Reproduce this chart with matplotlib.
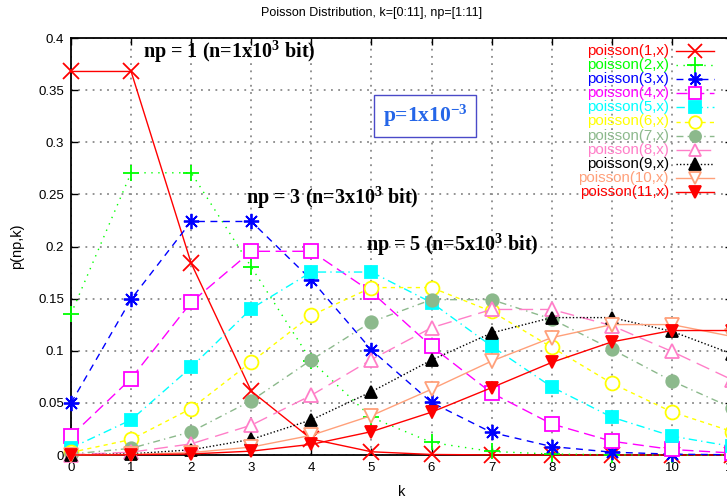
import matplotlib
matplotlib.use("Agg")
import matplotlib.pyplot as plt
from matplotlib.lines import Line2D

plt.rcParams['font.family'] = ['Liberation Sans', 'DejaVu Sans']
plt.rcParams['mathtext.fontset'] = 'custom'
plt.rcParams['mathtext.rm'] = 'Liberation Serif:bold'
plt.rcParams['mathtext.it'] = 'Liberation Serif:bold'

k = [0, 1, 2, 3, 4, 5, 6, 7, 8, 9, 10, 11]

pois_1 = [0.3679, 0.3679, 0.1839, 0.0613, 0.0153, 0.0031, 0.0005, 0.0001, 0.0, 0.0, 0.0, 0.0]
pois_2 = [0.1353, 0.2707, 0.2707, 0.1804, 0.0902, 0.0361, 0.0120, 0.0034, 0.0009, 0.0002, 0.0, 0.0]
pois_3 = [0.0498, 0.1494, 0.2240, 0.2240, 0.1680, 0.1008, 0.0504, 0.0216, 0.0081, 0.0027, 0.0008, 0.0002]
pois_4 = [0.0183, 0.0733, 0.1465, 0.1954, 0.1954, 0.1563, 0.1042, 0.0595, 0.0298, 0.0132, 0.0053, 0.0019]
pois_5 = [0.0067, 0.0337, 0.0842, 0.1404, 0.1755, 0.1755, 0.1462, 0.1044, 0.0653, 0.0363, 0.0181, 0.0082]
pois_6 = [0.0025, 0.0149, 0.0446, 0.0892, 0.1339, 0.1606, 0.1606, 0.1377, 0.1033, 0.0688, 0.0413, 0.0225]
pois_7 = [0.0009, 0.0064, 0.0223, 0.0521, 0.0912, 0.1277, 0.1490, 0.1490, 0.1304, 0.1014, 0.0710, 0.0452]
pois_8 = [0.0003, 0.0027, 0.0107, 0.0286, 0.0573, 0.0916, 0.1221, 0.1396, 0.1396, 0.1241, 0.0993, 0.0722]
pois_9 = [0.0001, 0.0011, 0.0050, 0.0150, 0.0337, 0.0607, 0.0911, 0.1171, 0.1318, 0.1318, 0.1186, 0.0970]
pois_10 = [0.0, 0.0005, 0.0023, 0.0076, 0.0189, 0.0378, 0.0631, 0.0901, 0.1126, 0.1251, 0.1251, 0.1137]
pois_11 = [0.0, 0.0002, 0.0010, 0.0037, 0.0102, 0.0224, 0.0411, 0.0646, 0.0888, 0.1085, 0.1194, 0.1194]

series = [pois_1, pois_2, pois_3, pois_4, pois_5, pois_6, pois_7, pois_8, pois_9, pois_10, pois_11]
labels = ['poisson(%d,x)' % i for i in range(1, 12)]

colors = ['#ff0000', '#00ff00', '#0000ff', '#ff00ff', '#00ffff', '#ffff00',
          '#8cb98c', '#ff7ec8', '#000000', '#ffa07a', '#ff0000']
styles = ['-', (0, (1, 4)), (0, (5, 4)), (0, (8, 4)), (0, (6, 3, 1, 3)), (0, (3, 3)),
          (0, (5, 3, 1, 3)), (0, (10, 5)), (0, (1, 1.5)), '-', '-']
markers = ['x', '+', (8, 2, 0), 's', 's', 'o', 'o', '^', '^', 'v', 'v']
filled = [True, True, True, False, True, False, True, False, True, False, True]
msizes = [11, 12, 11, 10, 9, 10, 9, 10, 9, 10, 9]

fig = plt.figure(figsize=(7.27, 5.0), dpi=100)
ax = fig.add_axes([71 / 727, 45 / 500, 661 / 727, 417 / 500])

for y, c, ls, m, f, ms in zip(series, colors, styles, markers, filled, msizes):
    ax.plot(k, y, color=c, linestyle=ls, linewidth=1.0, marker=m, markersize=ms,
            markeredgewidth=1.3, markerfacecolor=c if f else 'white',
            markeredgecolor=c, clip_on=False, zorder=3)

ax.set_xlim(0, 11)
ax.set_ylim(0, 0.4)
ax.set_xticks(k)
ax.set_yticks([0, 0.05, 0.1, 0.15, 0.2, 0.25, 0.3, 0.35, 0.4])
ax.set_yticklabels(['0', '0.05', '0.1', '0.15', '0.2', '0.25', '0.3', '0.35', '0.4'])
ax.tick_params(direction='in', length=5, width=1.0, top=True, right=True,
               labelsize=9.5, pad=5)
ax.grid(True, color='#8a8a8a', linestyle=(0, (1, 3)), linewidth=1.3)
ax.set_axisbelow(True)
for s in ax.spines.values():
    s.set_linewidth(1.3)

ax.set_xlabel('k', fontsize=10.5, labelpad=8)
ax.set_ylabel('p(np,k)', fontsize=10.5, labelpad=10)
fig.text(372 / 727, 1 - 13 / 500, 'Poisson Distribution, k=[0:11], np=[1:11]',
         fontsize=9, ha='center', va='center')

# annotations
serif = dict(family='Liberation Serif', fontweight='bold', fontsize=14.5, color='black')
fig.text(143 / 727, 1 - 52 / 500, r'np = 1 (n=1x10$^3$ bit)', va='center', **serif)
fig.text(246 / 727, 1 - 198 / 500, r'np = 3 (n=3x10$^3$ bit)', va='center', **serif)
fig.text(366 / 727, 1 - 245 / 500, r'np = 5 (n=5x10$^3$ bit)', va='center', **serif)
fig.text(425 / 727, 1 - 116 / 500, r'p=1x10$^{-3}$', ha='center', va='center',
         family='Liberation Serif', fontweight='bold', fontsize=15.5, color='#2566e8',
         bbox=dict(boxstyle='square,pad=0.38', facecolor='white', edgecolor='#4a4ac8', linewidth=1.0))

# legend, gnuplot style: label right-aligned, sample on the right
for i, (lab, c, ls, m, f, ms) in enumerate(zip(labels, colors, styles, markers, filled, msizes)):
    yy = 1 - (51 + i * 14.1) / 500
    fig.text(669 / 727, yy, lab, color=c, fontsize=10.8, ha='right', va='center')
    fig.add_artist(Line2D([676 / 727, 714 / 727], [yy, yy], color=c, linestyle=ls,
                          linewidth=1.0, transform=fig.transFigure))
    fig.add_artist(Line2D([695 / 727], [yy], marker=m, markersize=ms - 1, markeredgewidth=1.3,
                          color=c, markerfacecolor=c if f else 'white', markeredgecolor=c,
                          transform=fig.transFigure))

fig.savefig('out.png', dpi=100)
